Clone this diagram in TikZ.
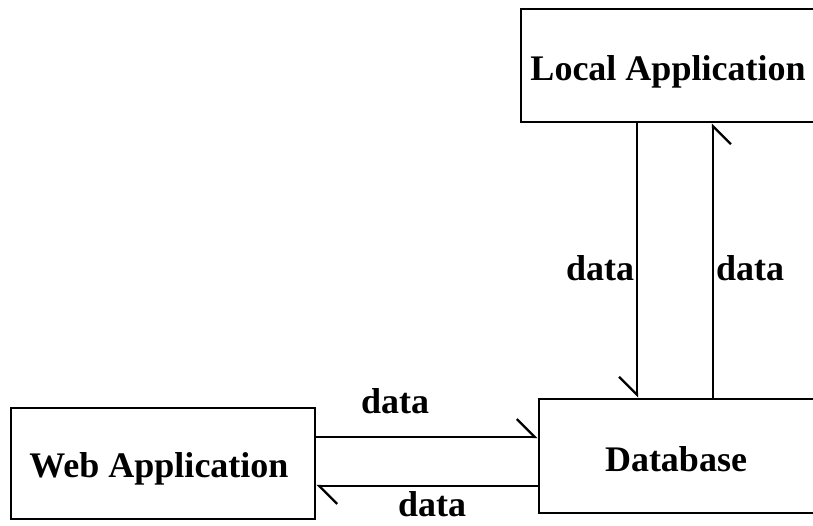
\documentclass[tikz,border=0pt]{standalone}
\usepackage{fontspec}
\setmainfont{Liberation Serif}
\usetikzlibrary{arrows.meta}
\begin{document}
\begin{tikzpicture}[x=1pt,y=-1pt,
  box/.style={draw, line width=2.8pt, rectangle, inner sep=0pt},
  lbl/.style={font=\fontsize{36}{40}\selectfont\bfseries, inner sep=0pt, anchor=base},
  flow/.style={line width=2.3pt, -{Straight Barb[harpoon,length=18pt,width=36pt,line width=2.3pt]}},
  flowswap/.style={line width=2.3pt, -{Straight Barb[harpoon,swap,length=18pt,width=36pt,line width=2.3pt]}}]
\useasboundingbox (0,0) rectangle (813,525);
\clip (0,0) rectangle (813,525);
% boxes
\node[box, minimum width=309pt, minimum height=113pt] (local) at (675.5,65.5) {};
\node[box, minimum width=304pt, minimum height=111pt] (web) at (163,463.5) {};
\node[box, minimum width=291pt, minimum height=114pt] (db) at (684.5,456) {};
% box texts
\node[lbl] (localt) at (668,80) {Local Application};
\node[lbl] (webt) at (159,477) {Web Application};
\node[lbl] (dbt) at (676,471) {Database};
% anchor points for the flows
\coordinate (w1) at (web.east |- 0,437);
\coordinate (d1) at (db.west |- 0,437);
\coordinate (w2) at (web.east |- 0,486);
\coordinate (d2) at (db.west |- 0,486);
\coordinate (l1) at (local.south -| 637,0);
\coordinate (e1) at (db.north -| 637,0);
\coordinate (l2) at (local.south -| 713,0);
\coordinate (e2) at (db.north -| 713,0);
% flows
\draw[flow] (w1) -- (d1);
\draw[flow] (d2) -- (w2);
\draw[flowswap] (l1) -- (e1);
\draw[flowswap] (e2) -- (l2);
% flow labels
\node[lbl] (f1) at (395,413) {data};
\node[lbl] (f2) at (432,516) {data};
\node[lbl] (f3) at (600,280) {data};
\node[lbl] (f4) at (750,280) {data};
\end{tikzpicture}
\end{document}
